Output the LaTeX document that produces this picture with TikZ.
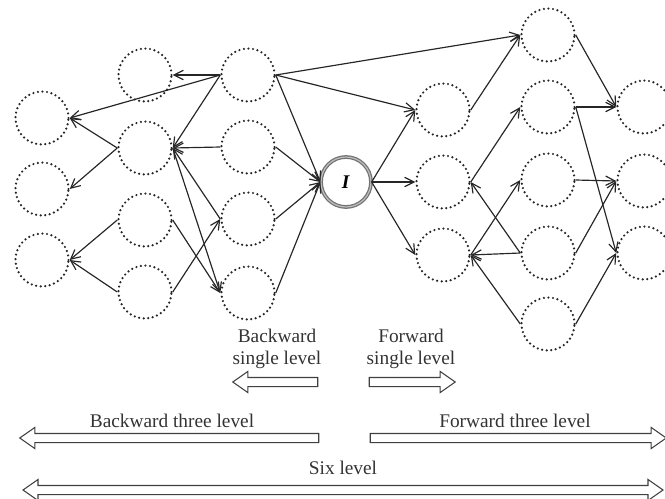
\documentclass[tikz,border=0pt]{standalone}
\usepackage{fontspec}
\setmainfont{Liberation Serif}
\usetikzlibrary{shapes.arrows,arrows.meta}

\begin{document}
\begin{tikzpicture}[x=0.03cm,y=-0.03cm]
    \tikzset{
        level/.style={circle,minimum size=1.59cm,inner sep=0pt,draw=black!85,line width=2.1pt,
            dash pattern=on 0pt off 3.9pt,line cap=round},
        link/.style={-{Straight Barb[length=8pt,width=8pt]},line width=1pt,draw=black!85},
        fatarrow/.style={single arrow,draw=black!75,fill=white,line width=0.9pt,inner xsep=0pt,inner ysep=0.12cm,
            single arrow head extend=0.18cm,single arrow tip angle=70},
        lbl/.style={font=\fontsize{16.5}{18.7}\selectfont,align=center,text=black!80}}
    \useasboundingbox (0,0) rectangle (665,499);
    % backward levels
    \foreach \n/\y in {a/118,b/189,c/260} \node[level] (b3\n) at (42,\y) {};
    \foreach \n/\y in {a/75,b/148,c/220,d/292} \node[level] (b2\n) at (145,\y) {};
    \foreach \n/\y in {a/75,b/147,c/219,d/293} \node[level] (b1\n) at (248,\y) {};
    % the item itself
    \node[circle,minimum size=1.5cm,inner sep=0pt,draw=black!55,double=black!25,double distance=1pt,
        line width=1.1pt,font=\fontsize{16.5}{18.7}\selectfont] (I) at (346,182) {\textbf{\textit{I}}};
    % forward levels
    \foreach \n/\y in {a/110,b/182,c/255} \node[level] (f1\n) at (443,\y) {};
    \foreach \n/\y in {a/35,b/107,c/180,d/253,e/324} \node[level] (f2\n) at (548,\y) {};
    \foreach \n/\y in {a/107,b/181,c/253} \node[level] (f3\n) at (644,\y) {};

    \foreach \a/\b in {b1a.west/b2a.east,b1a.west/b3a.east,b1a.west/b2b.east,b1b.west/b2b.east,
            b1c.west/b2b.east,b2b.east/b1d.west,b2c.east/b1d.west,b2d.east/b1c.west,
            b2b.west/b3a.east,b2b.west/b3b.east,b2c.west/b3c.east,b2d.west/b3c.east,
            b1a.east/I.west,b1b.east/I.west,b1c.east/I.west,b1d.east/I.west,
            b1a.east/f2a.west,b1a.east/f1a.west,
            I.east/f1a.west,I.east/f1b.west,I.east/f1c.west,
            f1a.east/f2a.west,f1b.east/f2b.west,f1c.east/f2c.west,
            f2d.west/f1b.east,f2d.west/f1c.east,f2e.west/f1c.east,
            f2a.east/f3a.west,f2b.east/f3a.west,f2b.east/f3c.west,
            f2c.east/f3b.west,f2d.east/f3b.west,f2e.east/f3c.west}
        \draw[link] (\a) -- (\b);

    % level spans
    \node[lbl] (bwone) at (277,349) {Backward\\single level};
    \node[lbl] (fwone) at (411,349) {Forward\\single level};
    \node[fatarrow,minimum height=2.55cm,shape border rotate=180] (bwonearr) at (278.5,382) {};
    \node[fatarrow,minimum height=2.58cm] (fwonearr) at (409,382) {};
    \node[lbl] (bwthree) at (172,421) {Backward three level};
    \node[lbl] (fwthree) at (515,421) {Forward three level};
    \node[fatarrow,minimum height=8.97cm,shape border rotate=180] (bwthreearr) at (172.5,438) {};
    \node[fatarrow,minimum height=8.88cm] (fwthreearr) at (515,438) {};
    \node[lbl] (six) at (343,468) {Six level};
    \node[double arrow,draw=black!75,fill=white,line width=0.9pt,inner xsep=0pt,inner ysep=0.12cm,
        double arrow head extend=0.18cm,double arrow tip angle=70,minimum height=19.2cm] (sixarr) at (343,490) {};
\end{tikzpicture}
\end{document}
